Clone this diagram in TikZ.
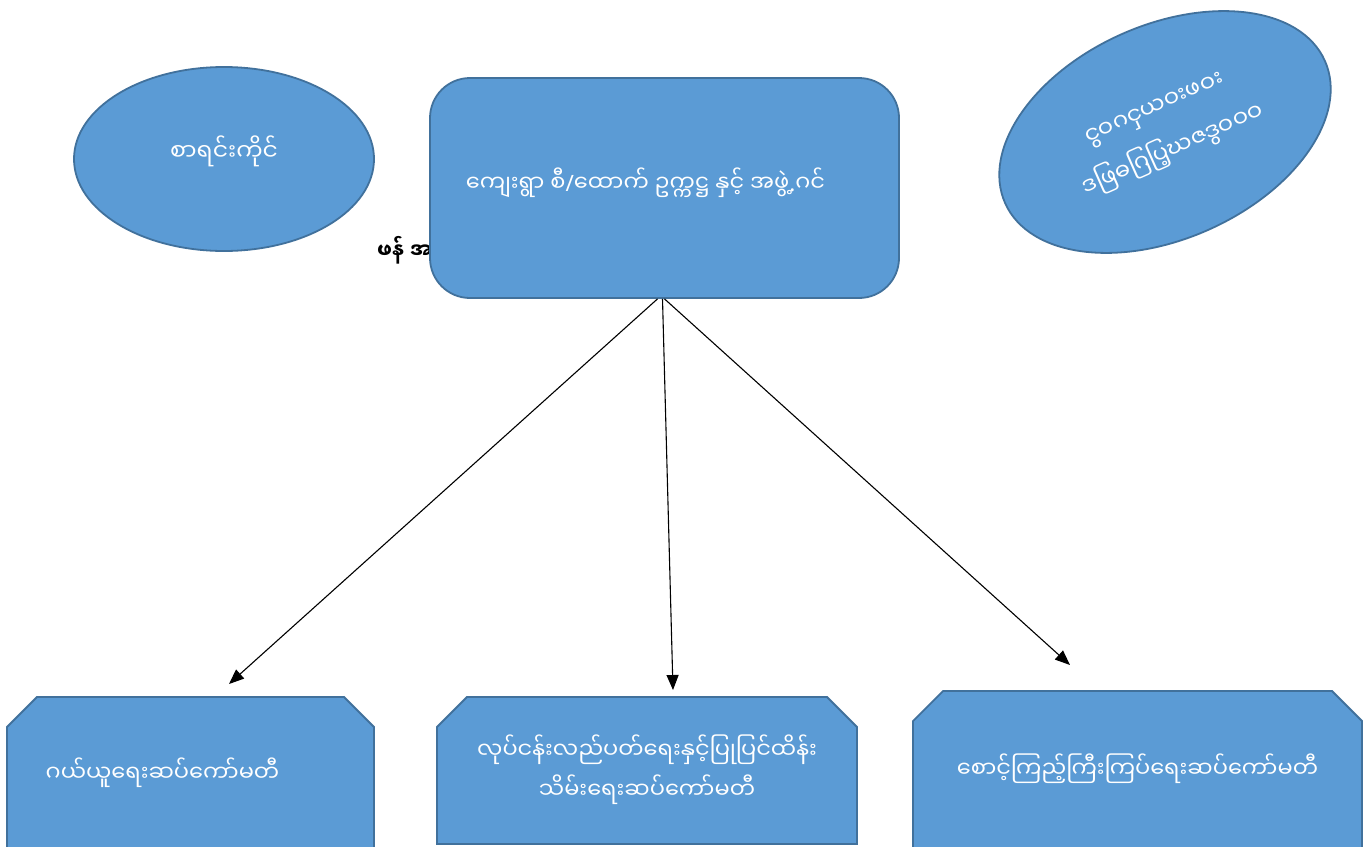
\documentclass[tikz,border=0pt]{standalone}
\usepackage{fontspec}
\newfontfamily\my[Script=Myanmar]{Noto Sans Myanmar UI}
\newfontfamily\lat{Noto Sans}
\usetikzlibrary{shapes.geometric,shapes.misc,arrows.meta}
\definecolor{boxfill}{HTML}{5B9BD5}
\definecolor{boxline}{HTML}{41719C}
\tikzset{
  blue shape/.style={fill=boxfill, draw=boxline, line width=1.8pt, text=white, inner sep=0pt, font=\my\fontsize{22.5}{40}\selectfont},
  ell/.style={blue shape, ellipse},
  mainbox/.style={blue shape, rectangle, rounded corners=40pt},
  cbox/.style={blue shape, chamfered rectangle, chamfered rectangle corners={north west,north east},
    chamfered rectangle xsep=15pt, chamfered rectangle ysep=15pt, align=center},
  arr/.style={draw=black, line width=1.1pt, -{Triangle[length=15pt,width=12pt]}},
  hidden label/.style={text=black, font=\my\fontsize{21}{24}\selectfont\bfseries, anchor=west, inner sep=0pt}
}
\begin{document}
\begin{tikzpicture}[x=1pt,y=-1pt]
\useasboundingbox[fill=white] (0,0) rectangle (1372,846);
\clip (0,0) rectangle (1372,846);
% partly hidden label behind the main box
\node[hidden label] (hid) at (377,250) {ဖန်  အ};
% left ellipse
\node[ell, minimum width=300pt, minimum height=184pt] (acc) at (224,159) {\raisebox{22pt}{\fontsize{23.5}{40}\selectfont စာရင်းကိုင်}};
% main box
\node[mainbox, minimum width=469pt, minimum height=220pt] (main) at (664.5,188) {\raisebox{16pt}{ကျေးရွာ စီ{\lat /}ထောက် ဥက္ကဋ္ဌ နှင့် အဖွဲ့{\lat .}ဂင်}\hspace*{38pt}};
% rotated ellipse
\node[ell, rotate=24, minimum width=350pt, minimum height=214pt, align=center, font=\my\fontsize{23}{46}\selectfont] (fin) at (1165,132) {ငွဝဂငှယဝးဖဝး\\ဒဖြဓဂြပြ့ဃဇဒွဝဝဝ};
% bottom boxes
\node[cbox, minimum width=367pt, minimum height=183pt] (b1) at (190.5,788.5) {\raisebox{37pt}{ဂယ်ယူရေးဆပ်ကော်မတီ}\hspace*{56pt}};
\node[cbox, minimum width=420pt, minimum height=147pt] (b2) at (647,770.5) {\raisebox{10pt}{\begin{tabular}{@{}c@{}}လုပ်ငန်းလည်ပတ်ရေးနှင့်ပြုပြင်ထိန်း\\သိမ်းရေးဆပ်ကော်မတီ\end{tabular}}};
\node[cbox, minimum width=449pt, minimum height=189pt] (b3) at (1137.5,785.5) {\raisebox{39pt}{စောင့်ကြည့်ကြီးကြပ်ရေးဆပ်ကော်မတီ}};
% arrow ends
\coordinate (t1) at (229,684);
\coordinate (t2) at (673,690);
\coordinate (t3) at (1070,665);
\draw[arr] ([xshift=-7pt]main.south) -- (t1);
\draw[arr] ([xshift=-2pt]main.south) -- (t2);
\draw[arr] ([xshift=0pt]main.south) -- (t3);
\end{tikzpicture}
\end{document}
